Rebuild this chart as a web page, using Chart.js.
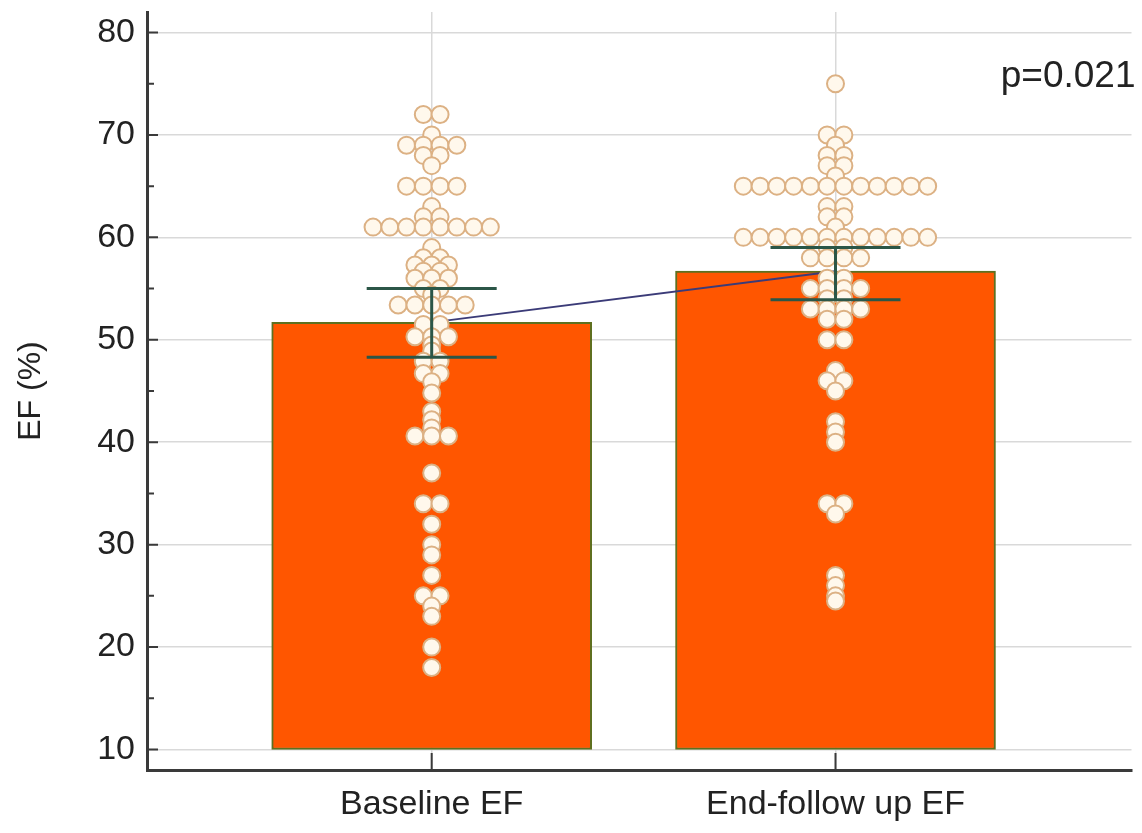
<!DOCTYPE html>
<html>
<head>
<meta charset="utf-8">
<script src="https://cdn.jsdelivr.net/npm/chart.js@4.4.0/dist/chart.umd.min.js"></script>
<style>
  html, body { margin: 0; padding: 0; background: #fff; }
  #wrap { width: 1142px; height: 833px; }
</style>
</head>
<body>
<div id="wrap"><canvas id="efChart" width="1142" height="833"></canvas></div>
<script>
// Groups on the x axis
const categories = ['Baseline EF', 'End-follow up EF'];

// Bar height (mean) and error bar ends for each group
const meanEF = [51.7, 56.7];
const errLow = [48.3, 53.9];
const errHigh = [55.0, 59.0];
const barBase = 10;

// Individual EF values
const baselineEF = [
    72, 72, 70, 69, 69, 69, 69, 68, 68, 67, 65, 65, 65, 65, 63, 62, 62,
    61, 61, 61, 61, 61, 61, 61, 61, 59, 58, 58, 57.3, 57.3, 57.3, 56.7, 56.7,
    56, 56, 56, 55, 55, 54.4, 53.4, 53.4, 53.4, 53.4, 53.4, 51.5, 51.5,
    50.3, 50.3, 50.3, 49.5, 48.9, 47.9, 47.9, 46.7, 46.7, 45.9, 44.8, 43, 42.2, 41.4,
    40.6, 40.6, 40.6, 37, 34, 34, 32, 30, 29, 27, 25, 25, 24, 23, 20, 18
];
const followUpEF = [
    75, 70, 70, 69, 68, 68, 67, 67, 66,
    65, 65, 65, 65, 65, 65, 65, 65, 65, 65, 65, 65,
    63, 63, 62, 62, 61,
    60, 60, 60, 60, 60, 60, 60, 60, 60, 60, 60, 60,
    59, 59, 58, 58, 58, 58, 56, 56, 55, 55, 55, 55, 54, 54, 53, 53, 53, 53,
    52, 52, 50, 50, 47, 46, 46, 45, 42, 41, 40, 34, 34, 33, 27, 26, 25, 24.5
];

const yTickValues = [10, 20, 30, 40, 50, 60, 70, 80];
const yMinorTicks = [15, 25, 35, 45, 55, 65, 75];
const pLabel = 'p=0.021';

const DOT_STEP = 0.0415; // horizontal spacing of dots sharing a value (x units)
const FONT = "'Liberation Sans', Arial, sans-serif";

// dots with the same value are laid out in a centred row
function dotRow(values, xCenter) {
    const counts = {};
    values.forEach(v => { counts[v] = (counts[v] || 0) + 1; });
    const seen = {};
    return values.map(v => {
        seen[v] = seen[v] === undefined ? 0 : seen[v] + 1;
        return { x: xCenter + (seen[v] - (counts[v] - 1) / 2) * DOT_STEP, y: v };
    });
}

// error bars, inward tick marks and the p value
const overlay = {
    id: 'overlay',
    afterDatasetsDraw(chart) {
        const { ctx, chartArea, scales: { x, y } } = chart;
        ctx.save();

        ctx.strokeStyle = '#2b5647';
        ctx.lineWidth = 3;
        meanEF.forEach((m, i) => {
            const px = x.getPixelForValue(i);
            const top = y.getPixelForValue(errHigh[i]);
            const bot = y.getPixelForValue(errLow[i]);
            ctx.beginPath();
            ctx.moveTo(px, top); ctx.lineTo(px, bot);
            ctx.moveTo(px - 65, top); ctx.lineTo(px + 65, top);
            ctx.moveTo(px - 65, bot); ctx.lineTo(px + 65, bot);
            ctx.stroke();
        });

        ctx.strokeStyle = '#3a3a3a';
        ctx.lineWidth = 2;
        ctx.beginPath();
        yTickValues.forEach(v => {
            const py = y.getPixelForValue(v);
            ctx.moveTo(chartArea.left, py); ctx.lineTo(chartArea.left + 11, py);
        });
        yMinorTicks.forEach(v => {
            const py = y.getPixelForValue(v);
            ctx.moveTo(chartArea.left, py); ctx.lineTo(chartArea.left + 7, py);
        });
        categories.forEach((c, i) => {
            const px = x.getPixelForValue(i);
            ctx.moveTo(px, chartArea.bottom); ctx.lineTo(px, chartArea.bottom - 17);
        });
        ctx.stroke();

        ctx.fillStyle = '#222';
        ctx.font = '37px ' + FONT;
        ctx.textAlign = 'right';
        ctx.textBaseline = 'middle';
        ctx.fillText(pLabel, chartArea.right + 4, y.getPixelForValue(75.7));
        ctx.restore();
    }
};

new Chart(document.getElementById('efChart'), {
    type: 'bar',
    data: {
        datasets: [
            {
                type: 'scatter',
                data: dotRow(baselineEF, 0).concat(dotRow(followUpEF, 1)),
                pointRadius: 8.5,
                pointBorderWidth: 2,
                pointBackgroundColor: '#fff8ec',
                pointBorderColor: '#dcb184',
                order: 1
            },
            {
                type: 'line',
                data: meanEF.map((m, i) => ({ x: i, y: m })),
                borderColor: '#3b3b78',
                borderWidth: 2,
                pointRadius: 0,
                order: 2
            },
            {
                type: 'bar',
                data: meanEF.map((m, i) => ({ x: i, y: [barBase, m] })),
                backgroundColor: '#ff5600',
                borderColor: '#5e7020',
                borderWidth: 2,
                borderSkipped: false,
                barThickness: 320,
                order: 3
            }
        ]
    },
    options: {
        responsive: false,
        devicePixelRatio: 1,
        animation: false,
        layout: { padding: { top: 12, right: 2, left: 0, bottom: 0 } },
        plugins: { legend: { display: false }, tooltip: { enabled: false } },
        scales: {
            x: {
                type: 'linear',
                min: -0.705,
                max: 1.733,
                offset: false,
                afterBuildTicks: s => { s.ticks = categories.map((c, i) => ({ value: i })); },
                afterFit: s => { s.height = 63; s.paddingLeft = 0; s.paddingRight = 0; },
                grid: { color: '#d9d9d9', lineWidth: 1.5, drawTicks: false, offset: false },
                border: { display: true, color: '#3a3a3a', width: 3 },
                ticks: {
                    callback: v => categories[v],
                    color: '#222',
                    font: { family: FONT, size: 34 },
                    padding: 14,
                    maxRotation: 0
                }
            },
            y: {
                type: 'linear',
                min: 8,
                max: 82,
                afterBuildTicks: s => { s.ticks = yTickValues.map(v => ({ value: v })); },
                afterFit: s => { s.width = 147; s.paddingTop = 0; s.paddingBottom = 0; },
                grid: { color: '#d9d9d9', lineWidth: 1.5, drawTicks: false },
                border: { display: true, color: '#3a3a3a', width: 3 },
                ticks: {
                    color: '#222',
                    font: { family: FONT, size: 34 },
                    padding: 12
                },
                title: {
                    display: true,
                    text: 'EF (%)',
                    color: '#222',
                    font: { family: FONT, size: 32 },
                    padding: { top: 12, bottom: 0 }
                }
            }
        }
    },
    plugins: [overlay]
});
</script>
</body>
</html>
